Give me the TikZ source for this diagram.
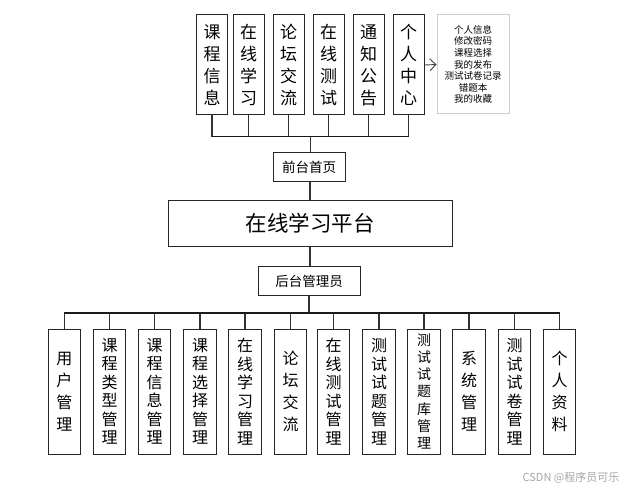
\documentclass[tikz,border=0pt]{standalone}
\usepackage{fontspec}
\newfontfamily\cjk{Noto Sans CJK SC}
\usetikzlibrary{arrows.meta}
\begin{document}
\begin{tikzpicture}[x=1pt,y=-1pt,
  topbox/.style={draw=black!85,line width=1pt,minimum width=31pt,minimum height=100pt,inner sep=0pt,align=center,font=\cjk\fontsize{17}{22}\selectfont},
  botbox/.style={draw=black!85,line width=1pt,minimum width=32.5pt,minimum height=125pt,inner sep=0pt,align=center,font=\cjk\fontsize{16}{18.5}\selectfont},
  wide/.style={font=\cjk\fontsize{16}{22}\selectfont},
  midbox/.style={draw=black!85,line width=1pt,inner sep=0pt,align=center},
  conn/.style={draw=black!80,line width=1.2pt},
  bus/.style={draw=black!90,line width=1.6pt}]
\useasboundingbox (0,0) rectangle (637,489);
% top row
\node[topbox] (t1) at (212,65) {课\\程\\信\\息};
\node[topbox] (t2) at (248.5,65) {在\\线\\学\\习};
\node[topbox] (t3) at (288.5,65) {论\\坛\\交\\流};
\node[topbox] (t4) at (328.5,65) {在\\线\\测\\试};
\node[topbox] (t5) at (368.5,65) {通\\知\\公\\告};
\node[topbox] (t6) at (408.5,65) {个\\人\\中\\心};
\node[draw=black!20,line width=1pt,minimum width=72pt,minimum height=99pt,inner sep=0pt,align=center,font=\cjk\fontsize{9.5}{11.6}\selectfont] (info) at (473,64.5) {个人信息\\修改密码\\课程选择\\我的发布\\测试试卷记录\\错题本\\我的收藏};
\draw[black!75,line width=0.9pt,-{Straight Barb[length=6pt,width=12pt]}] (t6.east) -- (info.west);
% middle
\node[midbox,minimum width=72pt,minimum height=29pt,font=\cjk\fontsize{13.5}{16}\selectfont] (front) at (309,167.5) {前台首页};
\node[midbox,minimum width=284pt,minimum height=45pt,font=\cjk\fontsize{21.5}{26}\selectfont] (plat) at (310,223.5) {在线学习平台};
\node[midbox,minimum width=102pt,minimum height=29pt,font=\cjk\fontsize{13.5}{16}\selectfont] (back) at (309,281.2) {后台管理员};
\coordinate (tb) at (310.7,136.7);
\coordinate (bb) at (309,312.7);
\foreach \i in {1,...,6} {\draw[conn] (t\i.south) -- (t\i.south |- tb);}
\draw[bus] (t1.south |- tb) -- (t6.south |- tb);
\draw[conn] (tb) -- (tb |- front.north);
\draw[conn] (front.south -| plat.north) -- (plat.north);
\draw[conn] (plat.south) -- (plat.south |- back.north);
\draw[conn] (back.south) -- (bb);
% bottom row
\node[botbox,wide] (b1) at (64.4,391.5) {用\\户\\管\\理};
\node[botbox] (b2) at (109.5,391.5) {课\\程\\类\\型\\管\\理};
\node[botbox] (b3) at (154.7,391.5) {课\\程\\信\\息\\管\\理};
\node[botbox] (b4) at (200,391.5) {课\\程\\选\\择\\管\\理};
\node[botbox] (b5) at (245,391.5) {在\\线\\学\\习\\管\\理};
\node[botbox,wide] (b6) at (290.5,391.5) {论\\坛\\交\\流};
\node[botbox] (b7) at (333.5,391.5) {在\\线\\测\\试\\管\\理};
\node[botbox] (b8) at (379,391.5) {测\\试\\试\\题\\管\\理};
\node[botbox,font=\cjk\fontsize{14}{17.2}\selectfont] (b9) at (424,391.5) {测\\试\\试\\题\\库\\管\\理};
\node[botbox,wide] (b10) at (469,391.5) {系\\统\\管\\理};
\node[botbox] (b11) at (514.5,391.5) {测\\试\\试\\卷\\管\\理};
\node[botbox,wide] (b12) at (559.5,391.5) {个\\人\\资\\料};
\foreach \i in {1,...,12} {\draw[conn] (b\i.north) -- (b\i.north |- bb);}
\draw[bus] (b1.north |- bb) -- (b12.north |- bb);
% watermark
\node[text=black!35,font=\cjk\fontsize{11}{13}\selectfont,inner sep=0pt] (wm) at (571,478) {CSDN @程序员可乐};
\end{tikzpicture}
\end{document}
